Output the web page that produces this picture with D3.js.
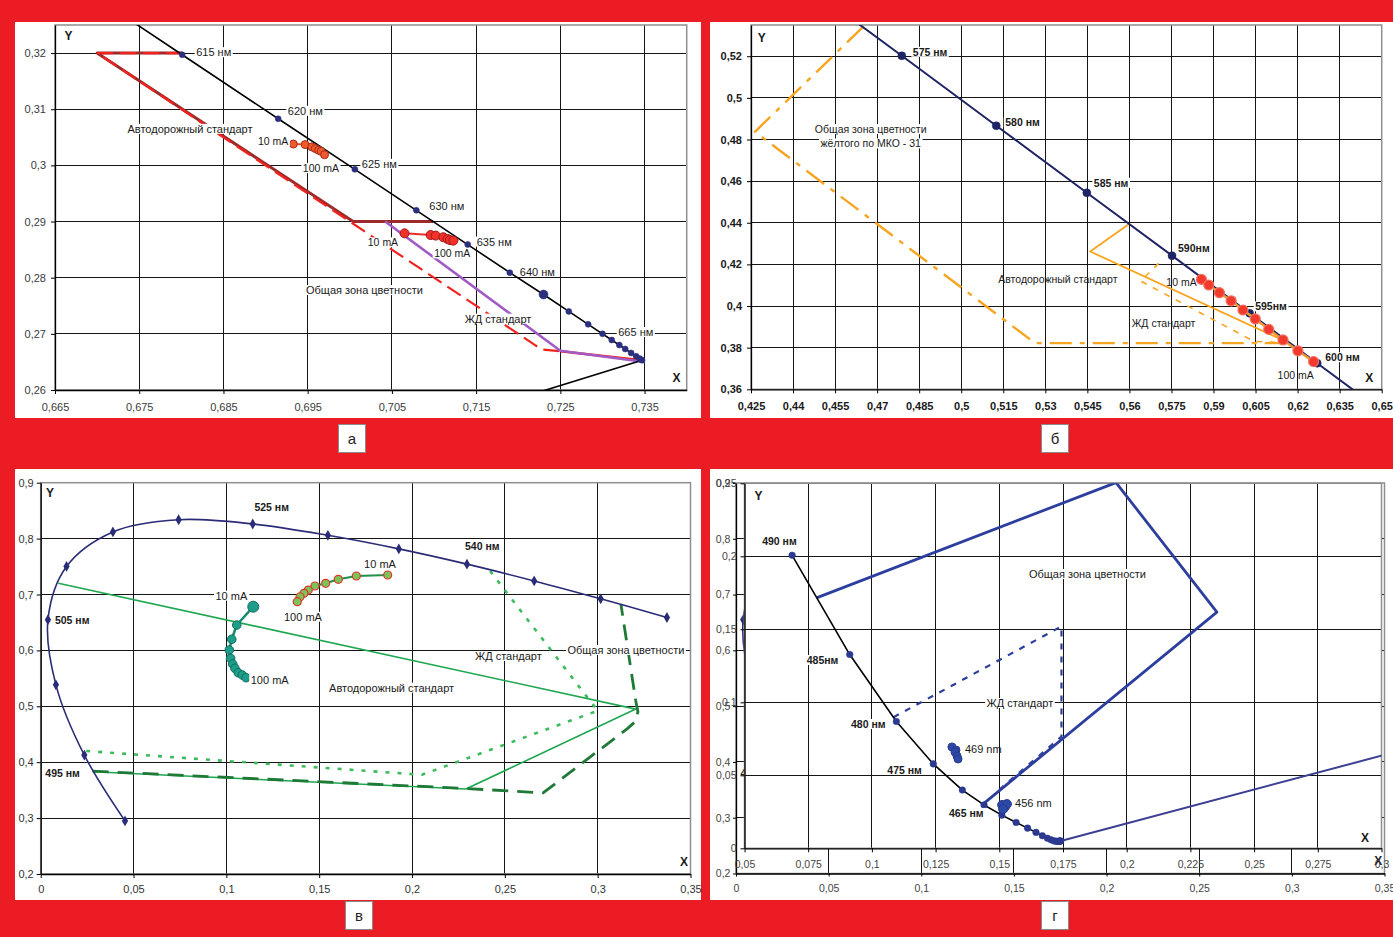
<!DOCTYPE html>
<html><head><meta charset="utf-8">
<script src="https://cdn.jsdelivr.net/npm/d3@7"></script>
<style>body{margin:0;background:#fff}svg{display:block}text{font-family:"Liberation Sans",Arial,sans-serif}</style>
</head><body><svg id="c" width="1393" height="937"></svg>
<script>
// ================= DATA =================
// ---- Panel а (red) ----
const aXTicks = [0.665,0.675,0.685,0.695,0.705,0.715,0.725,0.735];
const aYTicks = [0.26,0.27,0.28,0.29,0.3,0.31,0.32];
const aLocus = [[610,0.6658,0.3340],[615,0.6801,0.3197],[620,0.6915,0.3083],[625,0.7006,0.2993],[630,0.7079,0.2920],[635,0.7140,0.2859],[640,0.7190,0.2809],[645,0.7230,0.2770],[650,0.7260,0.2740],[655,0.7283,0.2717],[660,0.7300,0.2700],[665,0.7311,0.2689],[670,0.7320,0.2680],[675,0.7327,0.2673],[680,0.7334,0.2666],[685,0.7340,0.2660],[690,0.7344,0.2656],[695,0.7346,0.2654],[700,0.7347,0.2653]];
const aLocusLabels = [[615,"615 нм"],[620,"620 нм"],[625,"625 нм"],[630,"630 нм"],[635,"635 нм"],[640,"640 нм"],[665,"665 нм"]];
const aPurple = [[0.7347,0.2653],[0.1741,0.0050]];
const aRoad = [[0.6801,0.3200],[0.6700,0.3200],[0.7004,0.2900],[0.7099,0.2900]];
const aCommonDashed = [[0.6801,0.3200],[0.6700,0.3200],[0.7220,0.2680],[0.7228,0.2672],[0.7250,0.2669]];
const aCommonSolid = [[0.7250,0.2669],[0.7347,0.2653]];
const aRail = [[0.7042,0.2900],[0.7250,0.2670],[0.7350,0.2650]];
const aLed1 = [[0.6933,0.3038],[0.6947,0.3037],[0.6955,0.3033],[0.6959,0.3030],[0.6963,0.3027],[0.6966,0.3025],[0.6970,0.3019]];
const aLed2 = [[0.7065,0.2879],[0.7096,0.2876],[0.7102,0.2875],[0.7111,0.2872],[0.7116,0.2869],[0.7119,0.2867],[0.7123,0.2866]];

// ---- Panel б (yellow) ----
const bXTicks = [0.425,0.44,0.455,0.47,0.485,0.5,0.515,0.53,0.545,0.56,0.575,0.59,0.605,0.62,0.635,0.65];
const bYTicks = [0.36,0.38,0.4,0.42,0.44,0.46,0.48,0.5,0.52];
const bLocus = [[570,0.4441,0.5547],[575,0.4788,0.5202],[580,0.5125,0.4866],[585,0.5448,0.4544],[590,0.5752,0.4242],[595,0.6029,0.3965],[600,0.6270,0.3725],[605,0.6482,0.3514]];
const bLocusLabels = [[575,"575 нм"],[580,"580 нм"],[585,"585 нм"],[590,"590нм"],[595,"595нм"],[600,"600 нм"]];
const bCommon = [[0.4649,0.5340],[0.4264,0.4837],[0.5263,0.3822],[0.6175,0.3822]];
const bRoad = [[0.5600,0.4395],[0.5460,0.4262],[0.6170,0.3822],[0.6257,0.3733]];
const bRail = [[0.5704,0.4205],[0.5640,0.4120],[0.6045,0.3830],[0.6175,0.3822]];
const bLed = [[0.5857,0.4128],[0.5883,0.4101],[0.5921,0.4064],[0.5963,0.4025],[0.6005,0.3981],[0.6049,0.3938],[0.6097,0.3888],[0.6148,0.3837],[0.6201,0.3785],[0.6257,0.3733]];

// ---- Panel в (green) ----
const cXTicks = [0,0.05,0.1,0.15,0.2,0.25,0.3,0.35];
const cYTicks = [0.2,0.3,0.4,0.5,0.6,0.7,0.8,0.9];
const cLocus = [[490,0.0454,0.2950],[495,0.0235,0.4127],[500,0.0082,0.5384],[505,0.0039,0.6548],[510,0.0139,0.7502],[515,0.0389,0.8120],[520,0.0743,0.8338],[525,0.1142,0.8262],[530,0.1547,0.8059],[535,0.1929,0.7816],[540,0.2296,0.7543],[545,0.2658,0.7243],[550,0.3016,0.6923],[555,0.3373,0.6589]];
const cLocusLabels = [[525,"525 нм"],[540,"540 нм"],[505,"505 нм"],[495,"495 нм"]];
const cRoad = [[0.0095,0.7200],[0.3205,0.4950],[0.2290,0.3520],[0.0280,0.3830]];
const cCommon = [[0.0280,0.3840],[0.2290,0.3530],[0.2706,0.3450],[0.3160,0.4600],[0.3200,0.4720],[0.3217,0.4900],[0.3205,0.5100],[0.3125,0.6830]];
const cRail = [[0.0245,0.4200],[0.2053,0.3775],[0.3000,0.4920],[0.2415,0.7445]];
const cLed1 = [[0.1145,0.6782],[0.1056,0.6454],[0.1029,0.6199],[0.1016,0.6007],[0.1023,0.5859],[0.1034,0.5757],[0.1046,0.5680],[0.1064,0.5601],[0.1086,0.5560],[0.1106,0.5512]];
const cLed2 = [[0.1869,0.7349],[0.1700,0.7331],[0.1603,0.7272],[0.1535,0.7200],[0.1477,0.7152],[0.1441,0.7080],[0.1418,0.7021],[0.1397,0.6960],[0.1382,0.6871]];

// ---- Panel г (blue) ----
const dXTicks = [0.05,0.075,0.1,0.125,0.15,0.175,0.2,0.225,0.25,0.275,0.3];
const dYTicks = [0,0.05,0.1,0.15,0.2,0.25];
const dLocus = [[380,0.1741,0.0050],[385,0.1740,0.0050],[390,0.1738,0.0049],[395,0.1736,0.0049],[400,0.1733,0.0048],[405,0.1730,0.0048],[410,0.1726,0.0048],[415,0.1721,0.0048],[420,0.1714,0.0051],[425,0.1703,0.0058],[430,0.1689,0.0069],[435,0.1669,0.0086],[440,0.1644,0.0109],[445,0.1611,0.0138],[450,0.1566,0.0177],[455,0.1510,0.0227],[460,0.1440,0.0297],[465,0.1355,0.0399],[470,0.1241,0.0578],[475,0.1096,0.0868],[480,0.0913,0.1327],[485,0.0687,0.2007]];
const dLocusLabels = [[485,"490 нм"],[480,"485нм"],[475,"480 нм"],[470,"475 нм"],[460,"465 нм"]];
const dPurple = [[0.1741,0.0050],[0.7347,0.2653]];
const dCommon = [[0.0785,0.1717],[0.1958,0.2505],[0.2354,0.1618],[0.1436,0.0303]];
const dRail = [[0.1085,0.0898],[0.1744,0.1520],[0.1744,0.0765],[0.1480,0.0372]];
const dLed469 = [[0.1314,0.0694],[0.1330,0.0673],[0.1326,0.0660],[0.1334,0.0632],[0.1338,0.0612]];
const dLed456 = [[0.1511,0.0297],[0.1522,0.0283],[0.1530,0.0303],[0.1515,0.0269]];

const boxLetters = ["а","б","в","г"];

// ================= DRAWING =================
const fmt = d3.formatLocale({decimal:",",thousands:" ",grouping:[3],currency:["",""]}).format("~g");
const svg = d3.select("#c");
svg.append("rect").attr("width",1393).attr("height",937).attr("fill","#EC1C24");
const whites = [[15,22,701,418],[710,22,1393,418],[15,469,701,900],[710,469,1393,900]];
whites.forEach(p=>svg.append("rect").attr("x",p[0]).attr("y",p[1]).attr("width",p[2]-p[0]).attr("height",p[3]-p[1]).attr("fill","#fff"));
const boxes = [[338,424],[1041,424],[345,901],[1041,901]];
boxes.forEach((b,i)=>{
  svg.append("rect").attr("x",b[0]+0.5).attr("y",b[1]+0.5).attr("width",27).attr("height",28).attr("fill","#fff").attr("stroke","#8a8a8a");
  svg.append("text").attr("x",b[0]+14).attr("y",b[1]+14.5).attr("text-anchor","middle").attr("dominant-baseline","central").attr("font-size",15).attr("fill","#222").text(boxLetters[i]);
});

const snap = v => Math.round(v - 0.5) + 0.5;
let clipN = 0;
function makePanel(o){
  const x = d3.scaleLinear().domain(o.xd).range(o.px);
  const y = d3.scaleLinear().domain(o.yd).range([o.py[1],o.py[0]]);
  const g = svg.append("g");
  g.append("rect").attr("x",o.px[0]).attr("y",o.py[0]).attr("width",o.px[1]-o.px[0]).attr("height",o.py[1]-o.py[0]).attr("fill","#fff");
  const grid = g.append("g").attr("stroke","#151515").attr("stroke-width",1);
  o.xt.forEach(v=>{ if(v>o.xd[0]+1e-9 && v<o.xd[1]-1e-9) grid.append("line").attr("x1",snap(x(v))).attr("x2",snap(x(v))).attr("y1",o.py[0]).attr("y2",o.py[1]); });
  o.yt.forEach(v=>{ if(v>o.yd[0]+1e-9 && v<o.yd[1]-1e-9) grid.append("line").attr("y1",snap(y(v))).attr("y2",snap(y(v))).attr("x1",o.px[0]).attr("x2",o.px[1]); });
  g.append("rect").attr("x",o.px[0]).attr("y",o.py[0]).attr("width",o.px[1]-o.px[0]).attr("height",o.py[1]-o.py[0]).attr("fill","none").attr("stroke","#8f8f8f").attr("stroke-width",1.5);
  const ax = g.append("g").attr("transform",`translate(0,${o.py[1]})`).call(d3.axisBottom(x).tickValues(o.xt).tickFormat(fmt).tickSize(o.tick).tickSizeOuter(0).tickPadding(o.xpad));
  const ay = g.append("g").attr("transform",`translate(${o.px[0]},0)`).call(d3.axisLeft(y).tickValues(o.yt).tickFormat(fmt).tickSize(o.tick).tickSizeOuter(0).tickPadding(o.ypad));
  [ax,ay].forEach(a=>{
    a.attr("font-family",null).attr("font-size",null);
    a.selectAll("text").attr("font-size",o.fs).attr("font-weight",o.fw).attr("fill",o.tc);
    a.selectAll("line").attr("stroke","#000");
    a.select(".domain").attr("stroke","#000").attr("stroke-width",1.3);
  });
  const id = "clip"+(clipN++);
  svg.append("clipPath").attr("id",id).append("rect").attr("x",o.px[0]).attr("y",o.py[0]).attr("width",o.px[1]-o.px[0]).attr("height",o.py[1]-o.py[0]);
  const layer = g.append("g").attr("clip-path",`url(#${id})`);
  const top = g.append("g");
  return {x,y,g,layer,top};
}
function path(P, layer, pts, st, curve){
  const ln = d3.line().x(d=>P.x(d[0])).y(d=>P.y(d[1]));
  if(curve) ln.curve(curve);
  const p = layer.append("path").attr("d",ln(pts)).attr("fill","none").attr("stroke",st.c).attr("stroke-width",st.w).attr("stroke-linejoin","round");
  if(st.dash) p.attr("stroke-dasharray",st.dash);
  if(st.cap) p.attr("stroke-linecap",st.cap);
  return p;
}
function dots(P, layer, pts, r, fill, stroke, sw){
  layer.selectAll(null).data(pts).enter().append("circle").attr("cx",d=>P.x(d[0])).attr("cy",d=>P.y(d[1])).attr("r",r).attr("fill",fill).attr("stroke",stroke).attr("stroke-width",sw||1);
}
function label(g, x, y, text, o){
  o = o||{};
  const t = g.append("text").attr("x",x).attr("y",y).text(text).attr("font-size",o.fs||11).attr("font-weight",o.fw||"normal")
    .attr("fill",o.fill||"#1a1a1a").attr("text-anchor",o.anchor||"start").attr("dominant-baseline","central");
  if(o.bg!==false){
    const b = t.node().getBBox();
    g.insert("rect",()=>t.node()).attr("x",b.x-1.5).attr("y",b.y+1).attr("width",b.width+3).attr("height",b.height-2).attr("fill","#fff");
  }
  return t;
}
const lx = (P,d)=>P.x(d[0]), ly=(P,d)=>P.y(d[1]);

// ---------- Panel а ----------
{
  const P = makePanel({px:[55,686.7],py:[25,390],xd:[0.665,0.740],yd:[0.26,0.325],xt:aXTicks,yt:aYTicks,tick:4,xpad:9,ypad:5,fs:11,fw:"normal",tc:"#3a3a3a"});
  const L = P.layer;
  path(P,L,aRoad,{c:"#9E2B2B",w:3});
  path(P,L,aCommonDashed,{c:"#F2231F",w:2.2,dash:"16,7"});
  path(P,L,aCommonSolid,{c:"#F2231F",w:2.4});
  path(P,L,aRail,{c:"#A05CC4",w:2.6});
  path(P,L,aLocus.map(d=>[d[1],d[2]]),{c:"#000",w:1.6});
  path(P,L,aPurple,{c:"#000",w:1.6});
  dots(P,L,aLocus.map(d=>[d[1],d[2]]),3,"#2B2F7E","#2B2F7E",0.5);
  dots(P,L,aLocus.filter(d=>d[0]===645).map(d=>[d[1],d[2]]),4.5,"#2B2F7E","#2B2F7E",0.5);
  path(P,L,aLed1,{c:"#E04E22",w:2});
  dots(P,L,aLed1,4,"#F05A28","#A52A1E",1);
  path(P,L,aLed2,{c:"#E8302A",w:2});
  dots(P,L,aLed2,4.5,"#F3302A","#9E1A1A",1);
  const off = {615:[14,-2.6],620:[9.6,-8],625:[7,-5.5],630:[13,-4.5],635:[9,-3],640:[10,-1],665:[6.5,-8]};
  aLocusLabels.forEach(([nm,t])=>{ const d=aLocus.find(e=>e[0]===nm); label(P.top,P.x(d[1])+off[nm][0],P.y(d[2])+off[nm][1],t,{fs:11}); });
  label(P.top,P.x(0.68103),P.y(0.3065),"Автодорожный стандарт",{anchor:"middle"});
  label(P.top,P.x(0.6948),P.y(0.2778),"Общая зона цветности");
  label(P.top,P.x(0.7176),P.y(0.2727),"ЖД стандарт",{anchor:"middle"});
  label(P.top,lx(P,aLed1[0])-5,ly(P,aLed1[0])-2.6,"10 mA",{anchor:"end",fs:10.5});
  label(P.top,lx(P,aLed1[6])-21.7,ly(P,aLed1[6])+13.4,"100 mA",{fs:10.5});
  label(P.top,lx(P,aLed2[0])-6.4,ly(P,aLed2[0])+9,"10 mA",{anchor:"end",fs:10.5});
  label(P.top,lx(P,aLed2[6])-19.2,ly(P,aLed2[6])+12.7,"100 mA",{fs:10.5});
  label(P.top,P.x(0.6666),P.y(0.3230),"Y",{fw:"bold",fs:12,anchor:"middle",bg:false});
  label(P.top,P.x(0.7388),P.y(0.2621),"X",{fw:"bold",fs:12,anchor:"middle",bg:false});
}

// ---------- Panel б ----------
{
  const P = makePanel({px:[751,1381.7],py:[25,389.3],xd:[0.425,0.65],yd:[0.36,0.535],xt:bXTicks,yt:bYTicks,tick:4,xpad:8.5,ypad:5,fs:11,fw:"bold",tc:"#1a1a1a"});
  const L = P.layer;
  path(P,L,bCommon,{c:"#F7A420",w:2.4,dash:"22,8,5,8"});
  path(P,L,bRoad,{c:"#F7A420",w:1.8});
  path(P,L,bRail,{c:"#F7A420",w:1.6,dash:"6,7"});
  path(P,L,bLocus.map(d=>[d[1],d[2]]),{c:"#1F2564",w:2});
  dots(P,L,bLocus.map(d=>[d[1],d[2]]),4,"#1F2564","#1F2564",0.5);
  path(P,L,bLed,{c:"#F39A30",w:2.5});
  dots(P,L,bLed,5,"#F23A2C","#F27060",1.2);
  const off = {575:[11,-4],580:[9,-3.4],585:[7,-10],590:[6,-8],595:[5.5,-7],600:[8,-6]};
  bLocusLabels.forEach(([nm,t])=>{ const d=bLocus.find(e=>e[0]===nm); label(P.top,P.x(d[1])+off[nm][0],P.y(d[2])+off[nm][1],t,{fs:10.5,fw:"bold"}); });
  label(P.top,P.x(0.4677),P.y(0.4850),"Общая зона цветности",{anchor:"middle",fs:10.5});
  label(P.top,P.x(0.4677),P.y(0.4781),"жёлтого по МКО - 31",{anchor:"middle",fs:10.5});
  label(P.top,P.x(0.5132),P.y(0.4130),"Автодорожный стандарт",{fs:10.5,bg:false});
  label(P.top,P.x(0.5608),P.y(0.3917),"ЖД стандарт",{fs:10.5,bg:false});
  label(P.top,lx(P,bLed[0])-4.8,ly(P,bLed[0])+2.4,"10 mA",{anchor:"end",fs:10.5,bg:false});
  label(P.top,lx(P,bLed[9])-36,ly(P,bLed[9])+13.7,"100 mA",{fs:10.5,bg:false});
  label(P.top,P.x(0.4288),P.y(0.5288),"Y",{fw:"bold",fs:12,anchor:"middle",bg:false});
  label(P.top,P.x(0.6456),P.y(0.3656),"X",{fw:"bold",fs:12,anchor:"middle",bg:false});
}

// ---------- Panel в ----------
function greenLocus(P){
  const pts = cLocus.map(d=>[d[1],d[2]]);
  path(P,P.layer,pts,{c:"#2B2C78",w:1.6},d3.curveCatmullRom.alpha(0.5));
  P.layer.selectAll(null).data(pts).enter().append("path").attr("d",d3.symbol(d3.symbolDiamond).size(34)())
    .attr("transform",d=>`translate(${P.x(d[0])},${P.y(d[1])})`).attr("fill","#2B2C78");
}
const cOff = {525:[19,-17,"middle"],540:[15.3,-18.5,"middle"],505:[7,0,"start"],495:[-39,17.7,"start"]};
{
  const P = makePanel({px:[40.7,690.5],py:[482.7,874],xd:[0,0.35],yd:[0.2,0.9],xt:cXTicks,yt:cYTicks,tick:4,xpad:7.5,ypad:3,fs:11,fw:"normal",tc:"#333"});
  const L = P.layer;
  path(P,L,cRail,{c:"#3DBB5E",w:2.6,dash:"4,8"});
  path(P,L,cRoad,{c:"#1FA650",w:1.6});
  path(P,L,cCommon,{c:"#1E7A36",w:2.8,dash:"16,9"});
  greenLocus(P);
  path(P,L,cLed1,{c:"#178B72",w:2.5});
  dots(P,L,cLed1,4.3,"#1D9E8A","#136C5C",1);
  dots(P,L,[cLed1[0]],5.5,"#1D9E8A","#136C5C",1);
  path(P,L,cLed2,{c:"#23904A",w:2});
  dots(P,L,cLed2,4,"#7CC45A","#E2342C",1.2);
  cLocusLabels.forEach(([nm,t])=>{ const d=cLocus.find(e=>e[0]===nm); const o=cOff[nm]; label(P.top,P.x(d[1])+o[0],P.y(d[2])+o[1],t,{fs:10.5,fw:"bold",anchor:o[2],bg:nm===495?false:true}); });
  label(P.top,P.x(0.1890),P.y(0.5333),"Автодорожный стандарт",{anchor:"middle"});
  label(P.top,P.x(0.2519),P.y(0.5900),"ЖД стандарт",{anchor:"middle"});
  label(P.top,P.x(0.3152),P.y(0.6007),"Общая зона цветности",{anchor:"middle"});
  label(P.top,lx(P,cLed1[0])-6,ly(P,cLed1[0])-11,"10 mA",{anchor:"end"});
  label(P.top,lx(P,cLed1[9])+4.7,ly(P,cLed1[9])+2.3,"100 mA",{});
  label(P.top,lx(P,cLed2[0])-7.7,ly(P,cLed2[0])-11,"10 mA",{anchor:"middle"});
  label(P.top,lx(P,cLed2[8])-13.3,ly(P,cLed2[8])+15,"100 mA",{});
  label(P.top,P.x(0.0050),P.y(0.8810),"Y",{fw:"bold",fs:12,anchor:"middle",bg:false});
  label(P.top,P.x(0.3465),P.y(0.2220),"X",{fw:"bold",fs:12,anchor:"middle",bg:false});
}

// ---------- Panel г ----------
{
  // outer chart (same frame as в), mostly hidden by the inner chart
  const O = makePanel({px:[736,1384.5],py:[483,873.5],xd:[0,0.35],yd:[0.2,0.9],xt:cXTicks,yt:cYTicks,tick:3,xpad:8,ypad:2.6,fs:10.5,fw:"normal",tc:"#444"});
  greenLocus(O);
  { const d=cLocus.find(e=>e[0]===495); label(O.top,O.x(d[1])+cOff[495][0],O.y(d[2])+cOff[495][1],"495 нм",{fs:10.5,fw:"bold",bg:false}); }
  label(O.top,O.x(0.3466),O.y(0.2220),"X",{fw:"bold",fs:12,anchor:"middle",bg:false});
  const P = makePanel({px:[744.5,1381.5],py:[483.3,848.3],xd:[0.05,0.3],yd:[0,0.25],xt:dXTicks,yt:dYTicks,tick:4,xpad:8,ypad:4,fs:10.5,fw:"normal",tc:"#444"});
  const L = P.layer;
  path(P,L,dCommon,{c:"#2D3F9E",w:2.8});
  path(P,L,dRail,{c:"#2D3F9E",w:2.2,dash:"6,7"});
  path(P,L,dLocus.map(d=>[d[1],d[2]]),{c:"#000",w:1.6});
  path(P,L,dPurple,{c:"#3C3F92",w:2});
  dots(P,L,dLocus.map(d=>[d[1],d[2]]),3.3,"#2B3990","#2B3990",0.5);
  dots(P,L,dLed469,4,"#2B4AA8","#2B3990",1);
  dots(P,L,dLed456,4.5,"#2B4AA8","#2B3990",1);
  const off = {485:[-30,-14],480:[-43,5.4],475:[-45.4,2.4],470:[-46,6],460:[-35,8]};
  dLocusLabels.forEach(([nm,t])=>{ const d=dLocus.find(e=>e[0]===nm); label(P.top,P.x(d[1])+off[nm][0],P.y(d[2])+off[nm][1],t,{fs:10.5,fw:"bold"}); });
  label(P.top,P.x(0.1846),P.y(0.1879),"Общая зона цветности",{anchor:"middle"});
  label(P.top,P.x(0.1581),P.y(0.0995),"ЖД стандарт",{anchor:"middle"});
  label(P.top,P.x(0.1365),P.y(0.0680),"469 nm",{bg:false});
  label(P.top,P.x(0.1562),P.y(0.0310),"456 nm",{bg:false});
  label(P.top,P.x(0.0555),P.y(0.2413),"Y",{fw:"bold",fs:12,anchor:"middle",bg:false});
  label(P.top,P.x(0.2935),P.y(0.0071),"X",{fw:"bold",fs:12,anchor:"middle",bg:false});
}
</script></body></html>
